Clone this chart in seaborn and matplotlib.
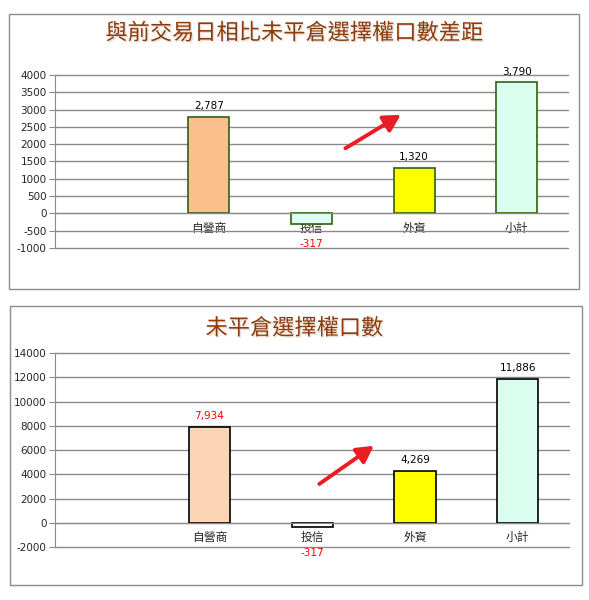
import numpy as np
import pandas as pd
import matplotlib
matplotlib.use('Agg')
import matplotlib.pyplot as plt
import matplotlib.patheffects as pe
from matplotlib.patches import Rectangle
import seaborn as sns

sns.set_style('white')
plt.rcParams['font.family'] = ['DejaVu Sans', 'Noto Sans CJK TC']
plt.rcParams['axes.unicode_minus'] = False

# 資料
categories = ['', '自營商', '投信', '外資', '小計']
diff_values = [np.nan, 2787, -317, 1320, 3790]
oi_values = [np.nan, 7934, -317, 4269, 11886]
diff_title = '與前交易日相比未平倉選擇權口數差距'
oi_title = '未平倉選擇權口數'

diff_colors = ['#ffffff', '#f9c08e', '#dcfdf0', '#ffff00', '#dafdf0']
oi_colors = ['#ffffff', '#fcd5b4', '#ffffff', '#ffff00', '#dafdf0']
diff_label_colors = ['black', 'black', 'red', 'black', 'black']
oi_label_colors = ['black', 'red', 'red', 'black', 'black']

# 箭頭位置 (類別座標, 數值)
diff_arrow = [(2.33, 1880), (2.87, 2850)]
oi_arrow = [(2.07, 3200), (2.60, 6350)]

fig = plt.figure(figsize=(5.89, 6.0), dpi=100)

# 外框
for rect in [(0.0153, 0.518, 0.968, 0.458), (0.017, 0.025, 0.971, 0.465)]:
    fig.patches.append(Rectangle(rect[:2], rect[2], rect[3], transform=fig.transFigure,
                                 fill=False, edgecolor='#8c8c8c', linewidth=1))


def draw_panel(ax, values, colors, edge, label_colors, title, title_y, ylim, step, arrow):
    df = pd.DataFrame({'cat': categories, 'val': values})
    sns.barplot(data=df.dropna(), x='cat', y='val', order=categories, hue='cat',
                hue_order=categories, palette=dict(zip(categories, colors)),
                saturation=1, width=0.4, legend=False, ax=ax, zorder=3)
    for p in ax.patches:
        p.set_edgecolor(edge)
        p.set_linewidth(1.2)
        p.set_alpha(1)

    ax.set_xlim(-0.5, len(categories) - 0.5)
    ax.set_ylim(*ylim)
    ax.set_yticks(np.arange(ylim[0], ylim[1] + 1, step))
    ax.yaxis.grid(True, color='#8a8a8a', linewidth=1)
    for line in ax.get_ygridlines():
        line.set_clip_on(False)
    ax.set_axisbelow(True)
    for s in ['top', 'right']:
        ax.spines[s].set_visible(False)
    ax.spines['bottom'].set_position(('data', 0))
    ax.spines['bottom'].set_color('#8a8a8a')
    ax.spines['left'].set_color('#8a8a8a')
    ax.spines['bottom'].set_zorder(4)

    ax.set_xticks(range(len(categories)))
    ax.set_xticklabels(categories, family=['Noto Sans CJK TC'], fontsize=8.5)
    ax.set_xticks(np.arange(0.5, len(categories)), minor=True)
    ax.tick_params(axis='x', which='major', length=0, pad=6)
    ax.tick_params(axis='x', which='minor', length=4, color='#8a8a8a', direction='out')
    ax.tick_params(axis='y', length=4, color='#8a8a8a', labelsize=7.5, pad=2, left=True)
    ax.set_xlabel('')
    ax.set_ylabel('')

    for i, v in enumerate(values):
        if np.isnan(v):
            continue
        if v >= 0:
            ax.annotate(f'{v:,.0f}', (i, v), xytext=(0, 4), textcoords='offset points',
                        ha='center', va='bottom', fontsize=7.5, color=label_colors[i])
        else:
            ax.annotate(f'{v:,.0f}', (i, 0), xytext=(0, -22), textcoords='offset points',
                        ha='center', va='center', fontsize=7.5, color=label_colors[i])

    ax.annotate('', xy=arrow[1], xytext=arrow[0],
                arrowprops=dict(arrowstyle='-|>,head_length=1.0,head_width=0.55',
                                color='#ea1c24', lw=2.8, shrinkA=0, shrinkB=0))

    fig.text(0.5, title_y, title, ha='center', va='center', fontsize=16,
             family=['Noto Sans CJK TC'], color='#8b3a0e',
             path_effects=[pe.withSimplePatchShadow(offset=(1, -1), shadow_rgbFace='#d0b090', alpha=0.4)])


ax1 = fig.add_axes([0.0934, 0.5867, 0.871, 0.2883])
draw_panel(ax1, diff_values, diff_colors, '#2f6010', diff_label_colors,
           diff_title, 0.945, (-1000, 4000), 500, diff_arrow)

ax2 = fig.add_axes([0.0934, 0.0883, 0.873, 0.3233])
draw_panel(ax2, oi_values, oi_colors, '#000000', oi_label_colors,
           oi_title, 0.453, (-2000, 14000), 2000, oi_arrow)

fig.savefig('out.png', dpi=100)
